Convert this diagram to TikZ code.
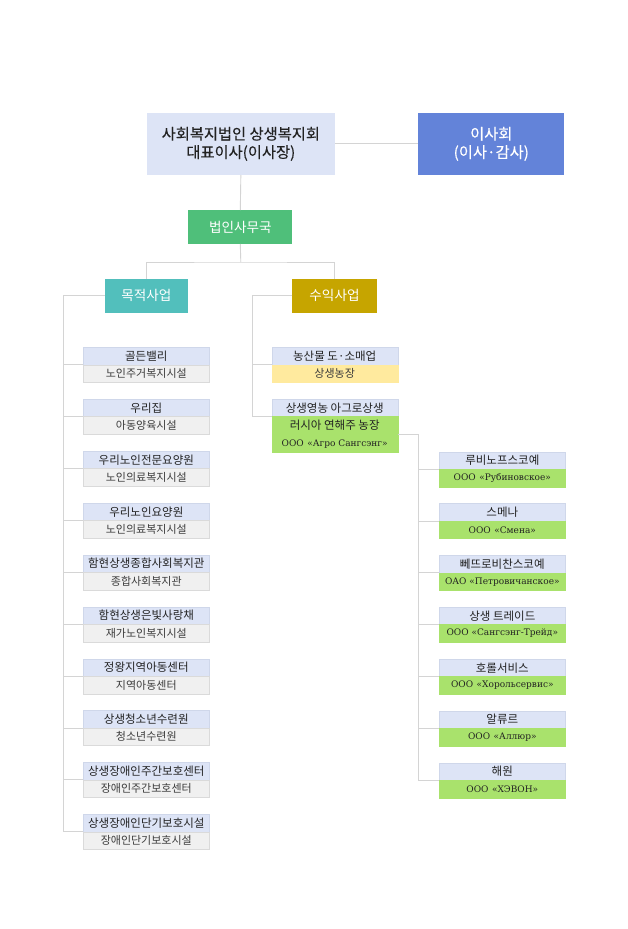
\documentclass[tikz,border=0pt]{standalone}
\usepackage{fontspec}
\setmainfont{Noto Sans CJK KR}
\newfontfamily\kr{Noto Sans CJK KR}
\newfontfamily\krb[FakeBold=0.3]{Noto Sans CJK KR}
\newfontfamily\ru{DejaVu Serif}
\newcommand{\gapx}{\hspace{3.5pt}}
\definecolor{mainc}{HTML}{DDE4F6}
\definecolor{boardc}{HTML}{6383D9}
\definecolor{officec}{HTML}{4FBF7A}
\definecolor{tealc}{HTML}{52BFBC}
\definecolor{olivec}{HTML}{C6A500}
\definecolor{hdrc}{HTML}{DDE4F6}
\definecolor{hdrline}{HTML}{CFD7EA}
\definecolor{subc}{HTML}{F0F0F0}
\definecolor{subline}{HTML}{DADADA}
\definecolor{yelc}{HTML}{FFEA9E}
\definecolor{grnc}{HTML}{A9E26C}
\definecolor{linec}{HTML}{D4D4D4}
\definecolor{txt}{HTML}{222222}
\definecolor{subtxt}{HTML}{3C3C3C}
\begin{document}
\begin{tikzpicture}[x=1pt,y=-1pt,
  box/.style={rectangle, inner sep=0pt, outer sep=0pt, anchor=north west, align=center},
  bigbox/.style={box, font=\krb\fontsize{15.3}{18.3}\selectfont},
  midbox/.style={box, text=white, font=\kr\fontsize{13.6}{15}\selectfont},
  hdr/.style={box, fill=hdrc, draw=hdrline, line width=0.4pt, minimum width=126pt, minimum height=17.4pt, text=txt, font=\kr\fontsize{11.5}{12}\selectfont},
  sub/.style={box, fill=subc, draw=subline, line width=0.4pt, minimum width=126pt, minimum height=17.6pt, text=subtxt, font=\kr\fontsize{11}{12}\selectfont},
  gsub/.style={sub, fill=grnc, draw=grnc, text=txt, font=\ru\fontsize{9}{10}\selectfont},
  conn/.style={draw=linec, line width=0.9pt}]
\path[use as bounding box, fill=white] (0,0) rectangle (628,929);

% top level
\node[bigbox, fill=mainc, text=txt, minimum width=188.3pt, minimum height=62.3pt] (main) at (146.7,112.7) {사회복지법인 상생복지회\\대표이사(이사장)};
\node[bigbox, fill=boardc, text=white, minimum width=146pt, minimum height=62.3pt] (board) at (418.3,112.7) {이사회\\(이사·감사)};
\node[midbox, fill=officec, minimum width=104pt, minimum height=34pt] (office) at (188.3,210) {법인사무국};
\node[midbox, fill=tealc, minimum width=82.7pt, minimum height=33.7pt] (mok) at (105,279) {목적사업};
\node[midbox, fill=olivec, minimum width=84.4pt, minimum height=33.7pt] (suik) at (292.3,279) {수익사업};

\coordinate (split) at (240.8,262);
\draw[conn] (main.east) -- (board.west);
\draw[conn] (main.south) -- (office.north);
\draw[conn] (office.south) -- (split);
\draw[conn] (mok.north) |- (split) -| (suik.north);

% left column
\foreach \i/\a/\b in {0/골든밸리/노인주거복지시설,
  1/우리집/아동양육시설,
  2/우리노인전문요양원/노인의료복지시설,
  3/우리노인요양원/노인의료복지시설,
  4/함현상생종합사회복지관/종합사회복지관,
  5/함현상생은빛사랑채/재가노인복지시설,
  6/정왕지역아동센터/지역아동센터,
  7/상생청소년수련원/청소년수련원,
  8/상생장애인주간보호센터/장애인주간보호센터,
  9/상생장애인단기보호시설/장애인단기보호시설}{
  \pgfmathsetmacro{\yy}{347.3+51.9*\i}
  \node[hdr] (lh\i) at (83.3,\yy) {\a};
  \node[sub] (ls\i) at (lh\i.south west) {\b};
}
\coordinate (lvx) at (63,0);
\draw[conn] (mok.west) -| (lvx |- lh9.south west) -- (lh9.south west);
\foreach \i in {0,...,8}{
  \draw[conn] (lvx |- lh\i.south west) -- (lh\i.south west);
}

% middle column
\node[hdr] (mh0) at (271.7,347.3) {농산물 도·소매업};
\node[sub, fill=yelc, draw=yelc] (ms0) at (mh0.south west) {상생농장};
\node[hdr] (mh1) at (271.7,399.2) {상생영농 아그로상생};
\node[sub, fill=grnc, draw=grnc, minimum height=35.6pt] (ms1) at (mh1.south west) {};
\node[text=txt, font=\kr\fontsize{11.5}{12}\selectfont, inner sep=0pt] (ms1a) at ([yshift=8.8pt]ms1.center) {러시아 연해주 농장};
\node[text=txt, font=\ru\fontsize{9}{10}\selectfont, inner sep=0pt] (ms1b) at ([yshift=-9.5pt]ms1.center) {ООО\gapx«Агро Сангсэнг»};
\coordinate (mvx) at (252.7,0);
\draw[conn] (suik.west) -| (mvx |- mh1.south west) -- (mh1.south west);
\draw[conn] (mvx |- mh0.south west) -- (mh0.south west);

% right column
\foreach \i/\a/\b in {0/루비노프스코예/ООО\gapx«Рубиновское»,
  1/스메나/ООО\gapx«Смена»,
  2/뻬뜨로비찬스코예/ОАО «Петровичанское»,
  3/상생 트레이드/ООО «Сангсэнг-Трейд»,
  4/호롤서비스/ООО\gapx«Хорольсервис»,
  5/알류르/ООО\gapx«Аллюр»,
  6/해원/ООО\gapx«ХЭВОН»}{
  \pgfmathsetmacro{\yy}{451.7+51.85*\i}
  \node[hdr] (rh\i) at (439.3,\yy) {\a};
  \node[gsub] (rs\i) at (rh\i.south west) {\b};
}
\coordinate (rvx) at (418.7,0);
\draw[conn] (ms1.east) -| (rvx |- rh6.south west) -- (rh6.south west);
\foreach \i in {0,...,5}{
  \draw[conn] (rvx |- rh\i.south west) -- (rh\i.south west);
}
\end{tikzpicture}
\end{document}
